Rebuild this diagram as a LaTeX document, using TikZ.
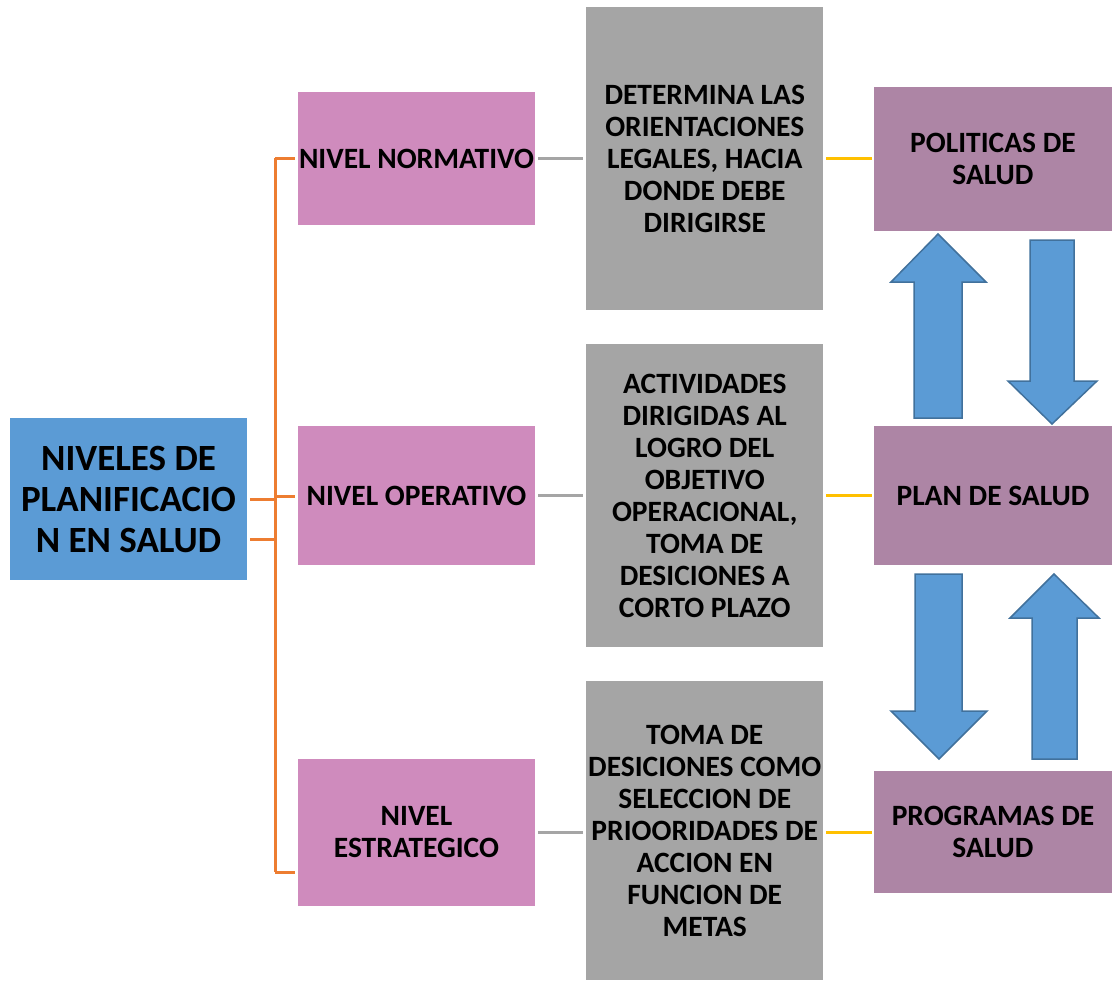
\documentclass[tikz,border=0pt]{standalone}
\usepackage{fontspec}
\setmainfont{Carlito}
\definecolor{cblue}{RGB}{91,155,213}
\definecolor{cbluedark}{RGB}{65,113,156}
\definecolor{cpink}{RGB}{207,139,189}
\definecolor{cgray}{RGB}{165,165,165}
\definecolor{cpurple}{RGB}{173,133,165}
\definecolor{corange}{RGB}{237,125,49}
\definecolor{cyellow}{RGB}{255,192,0}
\tikzset{
  box/.style={inner sep=0pt, align=center, text=black, font=\bfseries\fontsize{29.5}{32}\selectfont},
  mainbox/.style={box, fill=cblue, minimum width=237pt, minimum height=162pt, font=\bfseries\fontsize{37}{41}\selectfont},
  levelbox/.style={box, fill=cpink, minimum width=237pt},
  descbox/.style={box, fill=cgray, minimum width=237pt},
  resbox/.style={box, fill=cpurple, minimum width=238pt},
  orangeline/.style={draw=corange, line width=3pt},
  grayline/.style={draw=cgray, line width=3pt},
  yellowline/.style={draw=cyellow, line width=3pt},
  blockarrow/.style={fill=cblue, draw=cbluedark, line width=1.5pt, line join=miter}
}
\begin{document}
\begin{tikzpicture}[x=1pt,y=-1pt]
\useasboundingbox (0,0) rectangle (1113,980);
% main
\node[mainbox] (main) at (128.5,499) {NIVELES DE\\PLANIFICACIO\\N EN SALUD};
% levels
\node[levelbox, minimum height=133pt] (n1) at (416.5,158.5) {NIVEL NORMATIVO};
\node[levelbox, minimum height=139pt] (n2) at (416.5,495.5) {NIVEL OPERATIVO};
\node[levelbox, minimum height=147pt] (n3) at (416.5,832.5) {NIVEL\\ESTRATEGICO};
% descriptions
\node[descbox, minimum height=303pt] (d1) at (704.75,158.5) {DETERMINA LAS\\ORIENTACIONES\\LEGALES, HACIA\\DONDE DEBE\\DIRIGIRSE};
\node[descbox, minimum height=303pt] (d2) at (704.75,495.5) {ACTIVIDADES\\DIRIGIDAS AL\\LOGRO DEL\\OBJETIVO\\OPERACIONAL,\\TOMA DE\\DESICIONES A\\CORTO PLAZO};
\node[descbox, minimum height=299pt] (d3) at (704.75,830.5) {TOMA DE\\DESICIONES COMO\\SELECCION DE\\PRIOORIDADES DE\\ACCION EN\\FUNCION DE\\METAS};
% results
\node[resbox, minimum height=144pt] (r1) at (993,159) {POLITICAS DE\\SALUD};
\node[resbox, minimum height=139pt] (r2) at (993,495.5) {PLAN DE SALUD};
\node[resbox, minimum height=122pt] (r3) at (993,832) {PROGRAMAS DE\\SALUD};
% orange bracket
\coordinate (busA) at (275,499);
\coordinate (busB) at (275,539);
\coordinate (busTop) at (275,158);
\coordinate (busMid) at (275,496);
\coordinate (busBot) at (275,872);
\draw[orangeline] ([xshift=3pt]main.east |- busA) -- (busA);
\draw[orangeline] ([xshift=3pt]main.east |- busB) -- (busB);
\draw[orangeline] (busTop) -- (busBot);
\draw[orangeline] (busTop) -- ([xshift=-3pt]n1.west |- busTop);
\draw[orangeline] (busMid) -- ([xshift=-3pt]n2.west |- busMid);
\draw[orangeline] (busBot) -- ([xshift=-3pt]n3.west |- busBot);
% gray connectors
\draw[grayline] ([xshift=3pt]n1.east |- 0,158) -- ([xshift=-3pt]d1.west |- 0,158);
\draw[grayline] ([xshift=3pt]n2.east |- 0,495) -- ([xshift=-3pt]d2.west |- 0,495);
\draw[grayline] ([xshift=3pt]n3.east |- 0,832) -- ([xshift=-3pt]d3.west |- 0,832);
% yellow connectors
\draw[yellowline] ([xshift=3pt]d1.east |- 0,158) -- ([xshift=-2pt]r1.west |- 0,158);
\draw[yellowline] ([xshift=3pt]d2.east |- 0,495) -- ([xshift=-2pt]r2.west |- 0,495);
\draw[yellowline] ([xshift=3pt]d3.east |- 0,832) -- ([xshift=-2pt]r3.west |- 0,832);
% block arrows
\draw[blockarrow] (938,234) -- (986,282) -- (962,282) -- (962,418) -- (914,418) -- (914,282) -- (891,282) -- cycle;
\draw[blockarrow] (1030,240) -- (1074,240) -- (1074,381) -- (1097,381) -- (1052,424) -- (1008,381) -- (1030,381) -- cycle;
\draw[blockarrow] (915,574) -- (962,574) -- (962,711) -- (987,711) -- (939,759) -- (891,711) -- (915,711) -- cycle;
\draw[blockarrow] (1054,574) -- (1099,618) -- (1077,618) -- (1077,759) -- (1032,759) -- (1032,618) -- (1010,618) -- cycle;
\end{tikzpicture}
\end{document}
